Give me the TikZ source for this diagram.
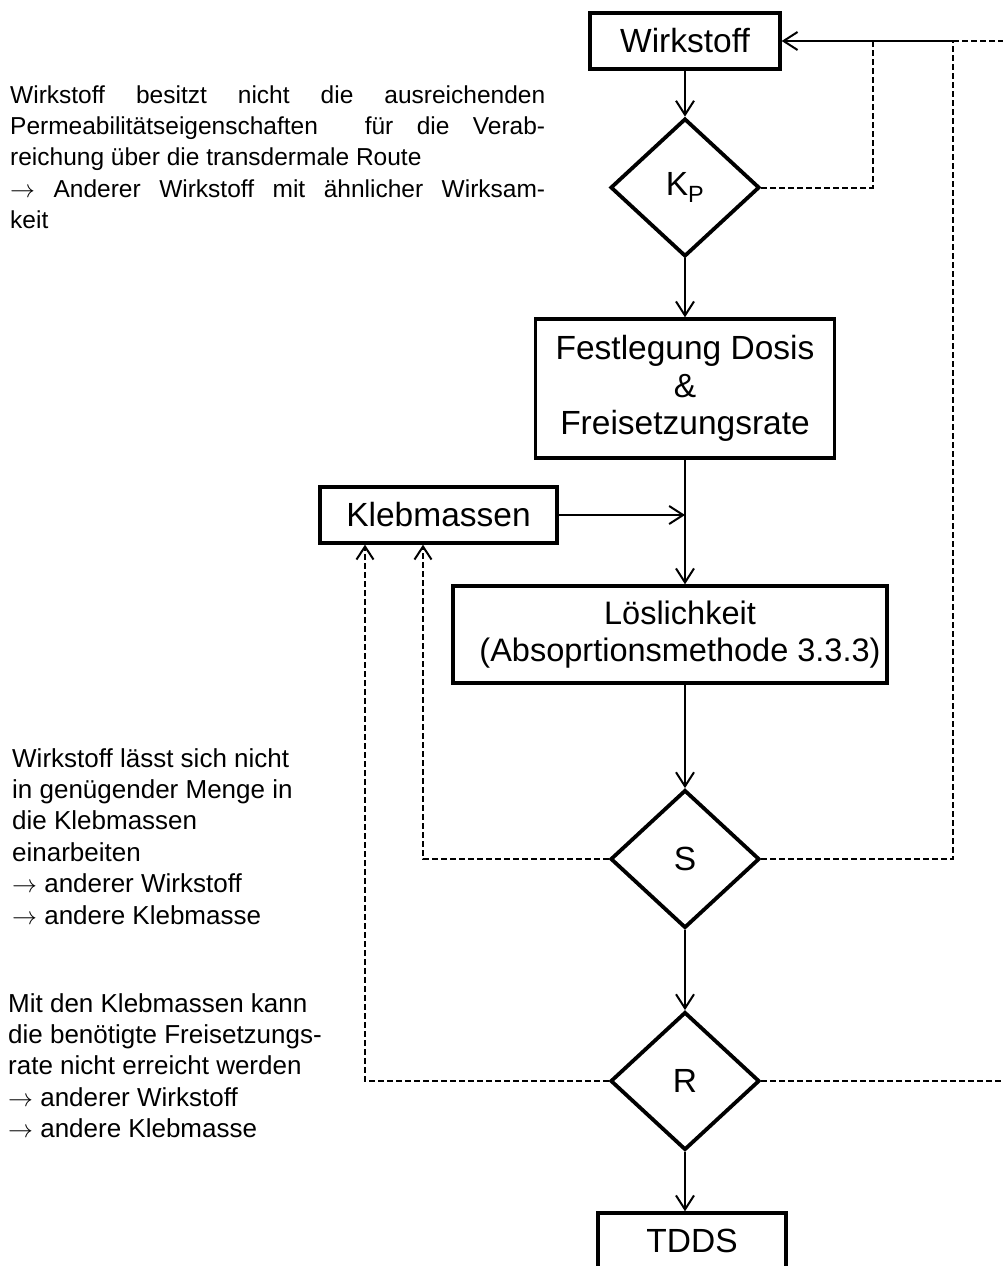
\documentclass[tikz,border=0pt]{standalone}
\usepackage{fontspec}
\setmainfont{Liberation Sans}
\usetikzlibrary{shapes.geometric,arrows.meta}

\begin{document}
\begin{tikzpicture}[x=1pt,y=-1pt,
  box/.style={draw, line width=3.4pt, rectangle, inner sep=0pt,
    font=\fontsize{33.5}{37.5}\selectfont, align=center},
  decision/.style={draw, line width=3.8pt, diamond, inner sep=0pt,
    minimum width=149pt, minimum height=138pt,
    font=\fontsize{33.5}{37.5}\selectfont},
  flow/.style={line width=2pt, -{Straight Barb[length=14pt,width=18pt]}},
  back/.style={line width=2pt, dash pattern=on 6pt off 3pt},
  backarrow/.style={back, -{Straight Barb[length=13pt,width=17pt]}},
  note/.style={anchor=north west, inner sep=0pt,
    font=\fontsize{26}{31.4}\selectfont}
]
\useasboundingbox (0,0) rectangle (1003,1266);
\clip (0,0) rectangle (1003,1266);

% main column of the flow chart
\node[box, minimum width=190pt, minimum height=56pt] (wirk) at (685,41) {Wirkstoff};
\node[decision] (kp) at (685,187.5) {K\textsubscript{P}};
\node[box, minimum width=299pt, minimum height=139pt] (fest) at (685,388.5)
  {Festlegung Dosis\\\&\\Freisetzungsrate};
\node[box, minimum width=237pt, minimum height=56pt] (kleb) at (438.5,515) {Klebmassen};
\node[box, minimum width=434pt, minimum height=97pt] (loes) at (670,634.5) {};
\node[font=\fontsize{32.5}{37.5}\selectfont, align=center, inner sep=0pt] (loestext)
  at (680,634.5) {Löslichkeit\\(Absoprtionsmethode 3.3.3)};
\node[decision] (s) at (685,859) {S};
\node[decision] (r) at (685,1081) {R};
\node[box, minimum width=188pt, minimum height=56pt] (tdds) at (692,1241) {TDDS};

% solid flow connectors
\coordinate (mid) at (fest.south |- kleb.east);
\draw[flow] (wirk.south) -- (kp.north);
\draw[flow] (kp.south) -- (fest.north);
\draw[flow] (fest.south) -- (fest.south |- loes.north);
\draw[flow] (kleb.east) -- (mid);
\draw[flow] (fest.south |- loes.south) -- (s.north);
\draw[flow] (s.south) -- (r.north);
\draw[flow] (r.south) -- (r.south |- tdds.north);

% feedback to the active ingredient
\coordinate (j1) at (873,41);
\coordinate (j2) at (953,41);
\coordinate (edgeT) at (1003,41);
\coordinate (edgeR) at (1003,1081);
\draw[flow] (j2) -- (wirk.east);
\draw[back] (kp.east) -| (j1);
\draw[back] (s.east) -| (j2);
\draw[back] (j2) -- (edgeT);
\draw[back] (r.east) -- (edgeR);

% feedback to the adhesives
\draw[backarrow] (s.west) -| ([xshift=-15.5pt]kleb.south);
\draw[backarrow] (r.west) -| ([xshift=-73.5pt]kleb.south);

% explanatory notes
\node[note, font=\fontsize{24.5}{31.3}\selectfont, text width=535pt, align=justify] (n1) at (10,85.3)
  {\noindent\tolerance=10000 Wirkstoff besitzt nicht die ausreichenden\linebreak
   Permeabilitätseigenschaften\ \ für die Verab-\linebreak
   reichung über die transdermale Route\\
   $\rightarrow$ Anderer Wirkstoff mit ähnlicher Wirksam-\linebreak keit};
\node[note, align=left] (n2) at (12,748)
  {Wirkstoff lässt sich nicht\\in genügender Menge in\\die Klebmassen\\einarbeiten\\
   $\rightarrow$ anderer Wirkstoff\\$\rightarrow$ andere Klebmasse};
\node[note, align=left] (n3) at (8,993)
  {Mit den Klebmassen kann\\die benötigte Freisetzungs-\\rate nicht erreicht werden\\
   $\rightarrow$ anderer Wirkstoff\\$\rightarrow$ andere Klebmasse};
\end{tikzpicture}
\end{document}
